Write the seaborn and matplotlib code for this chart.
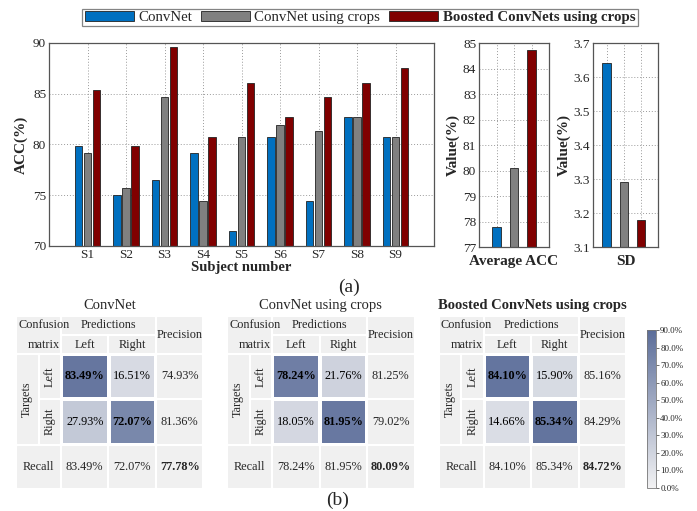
import numpy as np
import pandas as pd
import matplotlib
matplotlib.use("Agg")
import matplotlib.pyplot as plt
import seaborn as sns
from matplotlib.patches import Rectangle, Patch
from matplotlib.colors import LinearSegmentedColormap
from matplotlib.ticker import FuncFormatter

# ---------------- data ----------------
subjects = ["S1", "S2", "S3", "S4", "S5", "S6", "S7", "S8", "S9"]
methods = ["ConvNet", "ConvNet using crops", "Boosted ConvNets using crops"]
acc_convnet = [79.9, 75.0, 76.5, 79.2, 71.5, 80.7, 74.4, 82.7, 80.7]
acc_crops = [79.2, 75.7, 84.7, 74.4, 80.7, 81.9, 81.3, 82.7, 80.7]
acc_boosted = [85.4, 79.9, 89.6, 80.7, 86.1, 82.7, 84.7, 86.1, 87.5]
avg_acc = [77.78, 80.09, 84.72]
sd_values = [3.64, 3.29, 3.18]
bar_colors = ["#0070c0", "#808080", "#800000"]

cm_values = [
    [[83.49, 16.51], [27.93, 72.07]],
    [[78.24, 21.76], [18.05, 81.95]],
    [[84.10, 15.90], [14.66, 85.34]],
]
precision = [[74.93, 81.36], [81.25, 79.02], [85.16, 84.29]]
recall = [[83.49, 72.07], [78.24, 81.95], [84.10, 85.34]]
overall = [77.78, 80.09, 84.72]
class_labels = ["Left", "Right"]
cbar_ticks = [0, 10, 20, 30, 40, 50, 60, 70, 80, 90]

# ---------------- style ----------------
sns.set_theme(style="white")
plt.rcParams["font.family"] = ["Liberation Serif", "DejaVu Serif"]
plt.rcParams["axes.edgecolor"] = "#555555"
plt.rcParams["axes.linewidth"] = 0.9

W, H = 697, 511
fig = plt.figure(figsize=(W / 100, H / 100), dpi=100)
fig.patch.set_facecolor("white")


def rect(x0, y0, x1, y1):
    return [x0 / W, 1 - y1 / H, (x1 - x0) / W, (y1 - y0) / H]


def style_axis(ax):
    ax.grid(True, linestyle=(0, (1, 2)), color="#9a9a9a", linewidth=0.7)
    ax.set_axisbelow(True)
    ax.tick_params(direction="in", length=3, width=0.8, color="#555555",
                   labelsize=9.5, pad=2, top=False, right=False)
    for s in ax.spines.values():
        s.set_color("#555555")
        s.set_linewidth(0.9)


# ---------------- (a) main bar chart ----------------
df = pd.DataFrame({
    "Subject": subjects * 3,
    "ACC": acc_convnet + acc_crops + acc_boosted,
    "Method": [methods[0]] * 9 + [methods[1]] * 9 + [methods[2]] * 9,
})
ax = fig.add_axes(rect(49, 43, 434, 246))
sns.barplot(data=df, x="Subject", y="ACC", hue="Method", palette=bar_colors,
            width=0.69, gap=0.13, edgecolor="#222222", linewidth=0.6,
            legend=False, ax=ax, saturation=1)
ax.set_xlim(-1, 9)
ax.set_ylim(70, 90)
ax.set_yticks([70, 75, 80, 85, 90])
ax.set_ylabel("ACC(%)", fontsize=11, fontweight="bold", labelpad=4)
ax.set_xlabel("Subject number", fontsize=10.5, fontweight="bold", labelpad=0)
style_axis(ax)

# ---------------- average ACC ----------------
ax2 = fig.add_axes(rect(479, 43, 549, 247))
sns.barplot(x=methods, y=avg_acc, hue=methods, palette=bar_colors, width=0.5,
            edgecolor="#222222", linewidth=0.6, legend=False, ax=ax2, saturation=1)
ax2.set_xlim(-1, 3)
ax2.set_ylim(77, 85)
ax2.set_yticks(range(77, 86))
ax2.set_xticks([0, 1, 2])
ax2.set_xticklabels(["", "", ""])
ax2.set_xlabel("Average ACC", fontsize=11, fontweight="bold", labelpad=4)
ax2.set_ylabel("Value(%)", fontsize=11, fontweight="bold", labelpad=2)
style_axis(ax2)

# ---------------- SD ----------------
ax3 = fig.add_axes(rect(593, 43, 658, 247))
sns.barplot(x=methods, y=sd_values, hue=methods, palette=bar_colors, width=0.48,
            edgecolor="#222222", linewidth=0.6, legend=False, ax=ax3, saturation=1)
ax3.set_xlim(-0.79, 2.98)
ax3.set_ylim(3.1, 3.7)
ax3.set_yticks([3.1, 3.2, 3.3, 3.4, 3.5, 3.6, 3.7])
ax3.yaxis.set_major_formatter(FuncFormatter(lambda v, p: f"{v:.1f}"))
ax3.set_xticks([0, 1, 2])
ax3.set_xticklabels(["", "", ""])
ax3.set_xlabel("SD", fontsize=11, fontweight="bold", labelpad=4)
ax3.set_ylabel("Value(%)", fontsize=11, fontweight="bold", labelpad=2)
style_axis(ax3)

# ---------------- legend ----------------
handles = [Patch(facecolor=c, edgecolor="#222222", linewidth=0.6) for c in bar_colors]
leg = fig.legend(handles, methods, loc="center", bbox_to_anchor=(360 / W, 1 - 17.5 / H),
                 ncol=3, fontsize=10.7, frameon=True, fancybox=False,
                 handlelength=3.3, handleheight=0.65, handletextpad=0.3,
                 columnspacing=0.6, borderpad=0.15, borderaxespad=0)
leg.get_frame().set_edgecolor("#666666")
leg.get_frame().set_linewidth(0.9)
leg.get_texts()[2].set_fontweight("bold")

fig.text(349 / W, 1 - 287 / H, "(a)", ha="center", va="center", fontsize=14)
fig.text(338 / W, 1 - 500 / H, "(b)", ha="center", va="center", fontsize=14)

# ---------------- (b) confusion tables ----------------
cmap = LinearSegmentedColormap.from_list("cm", ["#f2f2f3", "#5b6d99"])
cax = fig.add_axes(rect(647, 330, 656, 488))

col_w = [22.5, 22.5, 47.5, 47.5, 47.5]
row_h = [18.5, 19, 45.5, 45.5, 44]
xs = np.concatenate([[0], np.cumsum(col_w)])
ys = np.concatenate([[0], np.cumsum(row_h)])
Wt, Ht = xs[-1], ys[-1]
TY = 316
FS = 8.8
table_x = [16, 227, 438.5]
cbar_obj = None

for k in range(3):
    x0 = table_x[k]
    tax = fig.add_axes(rect(x0, TY, x0 + Wt, TY + Ht))
    tax.set_xlim(0, Wt)
    tax.set_ylim(Ht, 0)
    tax.axis("off")

    def cell(c0, c1, r0, r1):
        tax.add_patch(Rectangle((xs[c0], ys[r0]), xs[c1] - xs[c0], ys[r1] - ys[r0],
                                facecolor="#f0f0f0", edgecolor="white", lw=1.5))

    def txt(x, y, s, **kw):
        tax.text(x, y, s, ha="center", va="center", fontsize=FS, zorder=5, **kw)

    cell(0, 2, 0, 2)
    cell(2, 4, 0, 1)
    cell(2, 3, 1, 2)
    cell(3, 4, 1, 2)
    cell(4, 5, 0, 2)
    cell(0, 1, 2, 4)
    cell(1, 2, 2, 3)
    cell(1, 2, 3, 4)
    cell(4, 5, 2, 3)
    cell(4, 5, 3, 4)
    cell(0, 2, 4, 5)
    cell(2, 3, 4, 5)
    cell(3, 4, 4, 5)
    cell(4, 5, 4, 5)

    txt(28, (ys[0] + ys[1]) / 2, "Confusion")
    txt(28, (ys[1] + ys[2]) / 2 + 1, "matrix")
    txt((xs[2] + xs[4]) / 2, (ys[0] + ys[1]) / 2, "Predictions")
    txt((xs[2] + xs[3]) / 2, (ys[1] + ys[2]) / 2 + 1, class_labels[0])
    txt((xs[3] + xs[4]) / 2, (ys[1] + ys[2]) / 2 + 1, class_labels[1])
    txt((xs[4] + xs[5]) / 2, ys[2] / 2, "Precision")
    txt((xs[0] + xs[1]) / 2, (ys[2] + ys[4]) / 2, "Targets", rotation=90)
    txt((xs[1] + xs[2]) / 2, (ys[2] + ys[3]) / 2, class_labels[0], rotation=90)
    txt((xs[1] + xs[2]) / 2, (ys[3] + ys[4]) / 2, class_labels[1], rotation=90)
    for r in range(2):
        txt((xs[4] + xs[5]) / 2, (ys[2 + r] + ys[3 + r]) / 2, f"{precision[k][r]:.2f}%")
    txt((xs[0] + xs[2]) / 2, (ys[4] + ys[5]) / 2, "Recall")
    for c in range(2):
        txt((xs[2 + c] + xs[3 + c]) / 2, (ys[4] + ys[5]) / 2, f"{recall[k][c]:.2f}%")
    txt((xs[4] + xs[5]) / 2, (ys[4] + ys[5]) / 2, f"{overall[k]:.2f}%", fontweight="bold")

    tax.text(Wt / 2, -11, methods[k], ha="center", va="center", fontsize=10.5,
             fontweight="bold" if k == 2 else "normal")

    hax = fig.add_axes(rect(x0 + xs[2], TY + ys[2], x0 + xs[4], TY + ys[4]))
    vals = np.array(cm_values[k])
    annot = np.array([[f"{v:.2f}%" for v in row] for row in vals])
    sns.heatmap(vals, ax=hax, cmap=cmap, vmin=0, vmax=90, annot=annot, fmt="",
                annot_kws={"color": "black", "fontsize": FS},
                linewidths=1.5, linecolor="white",
                cbar=(k == 2), cbar_ax=cax if k == 2 else None,
                xticklabels=False, yticklabels=False)
    if k == 2:
        cbar_obj = hax.collections[0].colorbar
    for t in hax.texts:
        pos = t.get_position()
        if int(pos[0]) == int(pos[1]):
            t.set_fontweight("bold")
    hax.axis("off")

cax.set_yticks(cbar_ticks)
cax.yaxis.set_major_formatter(FuncFormatter(lambda v, p: f"{v:.1f}%"))
cax.tick_params(labelsize=6.5, length=2, width=0.6, pad=1, right=True, color="#555555")
if cbar_obj is not None:
    cbar_obj.outline.set_edgecolor("#777777")
    cbar_obj.outline.set_linewidth(0.6)

fig.savefig("out.png", dpi=100, facecolor="white")
